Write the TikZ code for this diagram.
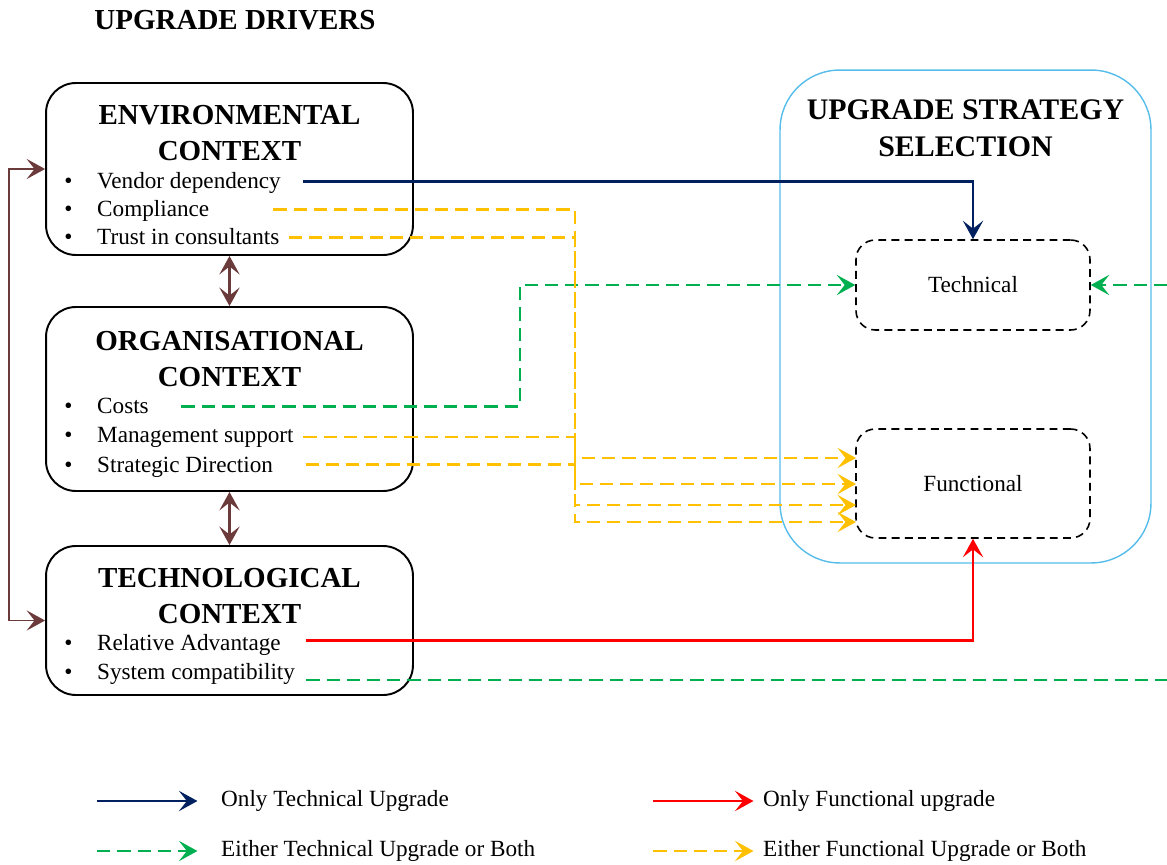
\documentclass[tikz,border=0pt]{standalone}
\usepackage{fontspec}
\setmainfont{Liberation Serif}
\usetikzlibrary{arrows.meta,calc}
\definecolor{navyline}{HTML}{002060}
\definecolor{redline}{HTML}{FF0000}
\definecolor{greenline}{HTML}{00B050}
\definecolor{yellowline}{HTML}{FFC000}
\definecolor{brownline}{HTML}{6B3A3A}
\definecolor{cyanline}{HTML}{56BDEB}
\tikzset{>={Stealth[length=10.5pt,width=11.5pt,inset=4.5pt]}}

\begin{document}
\begin{tikzpicture}[x=0.02cm,y=-0.02cm,
    ctxbox/.style={draw,rounded corners=17pt,line width=1.1pt,minimum width=7.34cm},
    choice/.style={draw,dash pattern=on 4.5pt off 3pt,rounded corners=11pt,line width=0.9pt,
      minimum width=4.68cm,font=\fontsize{13.2}{16}\selectfont},
    head/.style={font=\fontsize{16.5}{20.5}\selectfont\bfseries,align=center},
    txt/.style={anchor=west,font=\fontsize{13.2}{16}\selectfont,text height=0.9em,text depth=0.28em},
    item/.style={txt,label={[label distance=7pt,font=\fontsize{13.2}{16}\selectfont,text height=0.9em,text depth=0.28em]left:\textbullet}},
    navyarr/.style={->,draw=navyline,line width=1.5pt},
    redarr/.style={->,draw=redline,line width=1.5pt},
    greendash/.style={draw=greenline,line width=1.5pt,dash pattern=on 7.5pt off 4pt},
    greenarr/.style={->,greendash},
    yarr/.style={->,draw=yellowline,line width=1.5pt,dash pattern=on 7.5pt off 4pt},
    brownarr/.style={<->,draw=brownline,line width=1.3pt}]
  \useasboundingbox (0,0) rectangle (1167,865);

  % drivers
  \node[head] (title) at (235,20) {UPGRADE DRIVERS};
  \node[ctxbox,minimum height=3.44cm] (env) at (229.5,169) {};
  \node[ctxbox,minimum height=3.68cm] (org) at (229.5,399) {};
  \node[ctxbox,minimum height=2.98cm] (techctx) at (229.5,620.5) {};

  \node[head] (envhead) at (229.5,133.5) {ENVIRONMENTAL\\CONTEXT};
  \node[item] (vendor) at (91,183) {Vendor dependency};
  \node[item] (compl) at (91,211) {Compliance};
  \node[item] (trust) at (91,239) {Trust in consultants};

  \node[head] (orghead) at (229.5,359) {ORGANISATIONAL\\CONTEXT};
  \node[item] (costs) at (91,408) {Costs};
  \node[item] (mgmt) at (91,437) {Management support};
  \node[item] (strat) at (91,467) {Strategic Direction};

  \node[head] (techhead) at (229.5,596.5) {TECHNOLOGICAL\\CONTEXT};
  \node[item] (reladv) at (91,645) {Relative Advantage};
  \node[item] (syscomp) at (91,674) {System compatibility};

  % strategy selection
  \node[draw=cyanline,line width=0.8pt,rounded corners=34pt,minimum width=7.42cm,minimum height=9.86cm] (sel) at (965.5,316.5) {};
  \node[head,font=\fontsize{17}{21}\selectfont\bfseries] (selhead) at (965.5,128) {UPGRADE STRATEGY\\SELECTION};
  \node[choice,minimum height=1.8cm] (tech) at (973,285) {Technical};
  \node[choice,minimum height=2.18cm] (func) at (973,483.5) {Functional};

  % links between contexts
  \draw[brownarr] (env) -- (org);
  \draw[brownarr] (org) -- (techctx);
  \draw[brownarr,line width=1pt] (env.west) -- ++(-36,0) |- (techctx.west);

  % helper points
  \coordinate (gx) at (520,0);
  \coordinate (ytr) at (575,0);
  \coordinate (fy1) at (856,458);
  \coordinate (fy2) at (856,484);
  \coordinate (fy3) at (856,505);
  \coordinate (fy4) at (856,522);
  \coordinate (edge1) at (1167,285);
  \coordinate (edge2) at (1167,680);

  % influences
  \draw[navyarr] ([xshift=9pt,yshift=1pt]vendor.east) -| (tech.north);
  \draw[redarr] ([xshift=11pt,yshift=2.5pt]reladv.east) -| (func.south);
  \draw[greenarr] ([xshift=15pt,yshift=1pt]costs.east) -| (gx |- tech.west) -- (tech.west);
  \draw[greenarr] (edge1) -- (tech.east);
  \draw[greendash] (syscomp.east |- edge2) ++(3pt,0) -- (edge2);
  \draw[yarr] ([xshift=33pt,yshift=1pt]compl.east) -| (ytr |- fy4) -- (fy4);
  \draw[yarr] ([xshift=2pt,yshift=1pt]trust.east) -| (ytr |- fy3) -- (fy3);
  \draw[yarr] ([xshift=2pt]mgmt.east) -| (ytr |- fy2) -- (fy2);
  \draw[yarr] ([xshift=15pt,yshift=1.5pt]strat.east) -| (ytr |- fy1) -- (fy1);

  % legend
  \node[txt] (lg1) at (215,801) {Only Technical Upgrade};
  \node[txt] (lg2) at (215,851) {Either Technical Upgrade or Both};
  \node[txt] (lg3) at (757,801) {Only Functional upgrade};
  \node[txt] (lg4) at (757,851) {Either Functional Upgrade or Both};
  \draw[navyarr] ([xshift=-67pt]lg1.west) -- ([xshift=-10pt]lg1.west);
  \draw[greenarr] ([xshift=-67pt]lg2.west) -- ([xshift=-10pt]lg2.west);
  \draw[redarr] ([xshift=-59pt]lg3.west) -- ([xshift=-2pt]lg3.west);
  \draw[yarr] ([xshift=-59pt]lg4.west) -- ([xshift=-2pt]lg4.west);
\end{tikzpicture}
\end{document}
